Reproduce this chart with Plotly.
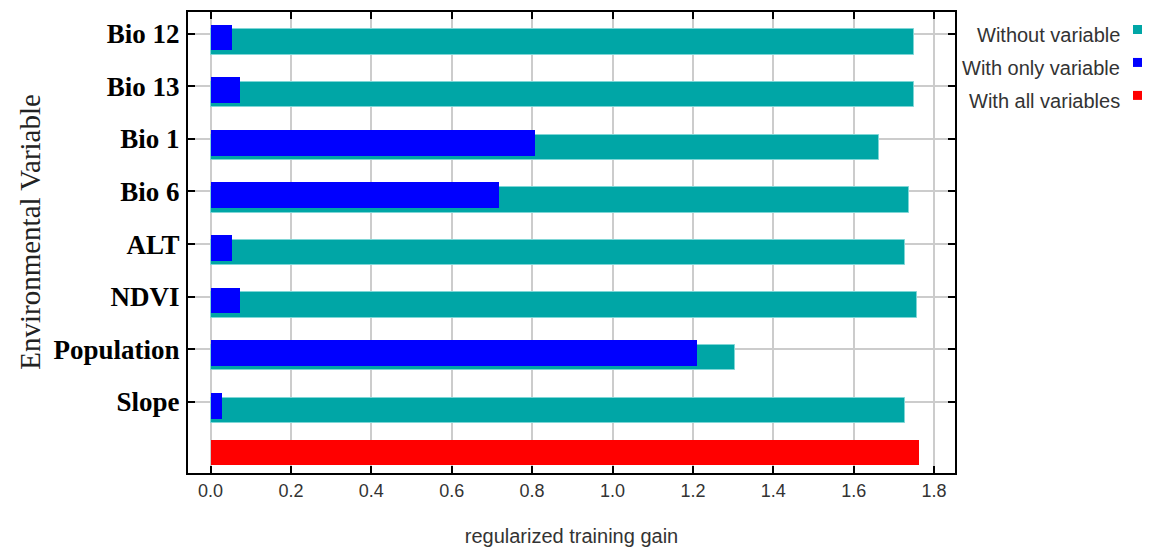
import plotly.graph_objects as go

variables = ["Bio 12", "Bio 13", "Bio 1", "Bio 6", "ALT", "NDVI", "Population", "Slope"]
without_variable = [1.751, 1.749, 1.664, 1.738, 1.728, 1.757, 1.305, 1.728]
with_only_variable = [0.053, 0.073, 0.807, 0.718, 0.053, 0.073, 1.210, 0.028]
with_all_variables = [1.763]
x_ticks = [0.0, 0.2, 0.4, 0.6, 0.8, 1.0, 1.2, 1.4, 1.6, 1.8]

TEAL = "#00A6A6"
BLUE = "#0000FF"
RED = "#FF0000"

pos = list(range(len(variables)))

# page body has an 8px margin; work in screen pixels and subtract it
PAD = 8
W, H = 1154, 549
L, R, T, B = 188, 955, 12, 473.5  # plot frame in screen pixels

fig = go.Figure()
fig.add_trace(go.Bar(
    y=pos, x=without_variable, orientation="h", name="Without variable",
    marker=dict(color=TEAL, line=dict(color="#7fd6d6", width=1)),
    width=0.484, offset=-0.082, showlegend=False,
))
fig.add_trace(go.Bar(
    y=pos, x=with_only_variable, orientation="h", name="With only variable",
    marker=dict(color=BLUE, line=dict(width=0)),
    width=0.488, offset=-0.171, showlegend=False,
))
fig.add_trace(go.Bar(
    y=[len(variables)], x=with_all_variables, orientation="h", name="With all variables",
    marker=dict(color=RED, line=dict(width=0)),
    width=0.474, offset=-0.285, showlegend=False,
))

sans = "Liberation Sans Narrow, Arial Narrow, Liberation Sans, Arial, sans-serif"
serif = "Liberation Serif, Times New Roman, serif"

fig.update_layout(
    width=W, height=H,
    margin=dict(l=L - PAD, r=W - (R - PAD), t=T - PAD, b=H - (B - PAD), autoexpand=False),
    paper_bgcolor="white", plot_bgcolor="white",
    barmode="overlay",
    bargap=0,
)
fig.update_xaxes(
    range=[-0.056, 1.852],
    tickvals=x_ticks, tickformat=".1f",
    ticks="inside", ticklen=7, tickwidth=2, tickcolor="black",
    showline=True, linecolor="black", linewidth=2, mirror="ticks",
    showgrid=True, gridcolor="#cccccc", gridwidth=1.5,
    zeroline=False,
    tickfont=dict(family=sans, size=18, color="#333333"),
    title=dict(text="regularized training gain", standoff=29,
               font=dict(family=sans, size=20, color="#333333")),
)
fig.update_yaxes(
    range=[8.35, -0.41],
    tickvals=pos, ticktext=["<b>%s</b>" % v for v in variables],
    ticks="inside", ticklen=7, tickwidth=2, tickcolor="black",
    showline=True, linecolor="black", linewidth=2, mirror="ticks",
    showgrid=True, gridcolor="#cccccc", gridwidth=1.5,
    zeroline=False,
    tickfont=dict(family=serif, size=27, color="black"),
    ticklabelstandoff=1,
)

pw = R - L
ph = B - T


def px_x(x):
    return (x - L) / pw


def px_y(y):
    return 1 - (y - T) / ph


fig.add_annotation(
    text="Environmental Variable", xref="paper", yref="paper",
    x=px_x(30), y=px_y(232),
    textangle=-90, showarrow=False, xanchor="center", yanchor="middle",
    font=dict(family=serif, size=29, color="#222222"),
)

legend_items = [("Without variable", TEAL, 35), ("With only variable", BLUE, 68), ("With all variables", RED, 101)]
for label, color, ypx in legend_items:
    fig.add_annotation(
        text=label, xref="paper", yref="paper",
        x=px_x(1122), y=px_y(ypx),
        xanchor="right", yanchor="middle", showarrow=False,
        font=dict(family=sans, size=20, color="#333333"),
    )
    fig.add_shape(
        type="rect", xref="paper", yref="paper",
        x0=px_x(1133), x1=px_x(1142),
        y0=px_y(ypx - 1), y1=px_y(ypx - 10),
        fillcolor=color, line=dict(width=0),
    )

fig.write_html("out.html")
